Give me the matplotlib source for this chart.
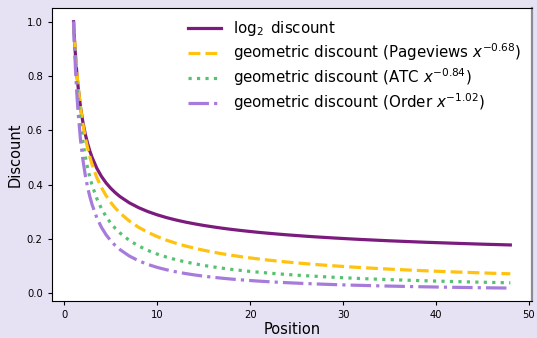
import matplotlib
matplotlib.use("Agg")
import matplotlib.pyplot as plt

positions = [1, 1.1, 1.2, 1.35, 1.5, 1.75, 2, 2.25, 2.5, 2.75, 3, 3.5, 4, 4.5, 5, 5.5] + list(range(6, 49))

log2_discount = [
    1.0000, 0.9342, 0.8791, 0.8113, 0.7565, 0.6852, 0.6309, 0.5881, 0.5533, 0.5244,
    0.5000, 0.4608, 0.4307, 0.4066, 0.3869, 0.3703,
    0.3562, 0.3333, 0.3155, 0.3010, 0.2891,
    0.2789, 0.2702, 0.2626, 0.2560, 0.2500, 0.2447, 0.2398, 0.2354, 0.2314, 0.2277,
    0.2242, 0.2211, 0.2181, 0.2153, 0.2128, 0.2103, 0.2080, 0.2059, 0.2038, 0.2019,
    0.2000, 0.1982, 0.1966, 0.1950, 0.1934, 0.1920, 0.1906, 0.1892, 0.1879, 0.1867,
    0.1855, 0.1843, 0.1832, 0.1821, 0.1810, 0.1800, 0.1791, 0.1781,
]

pageviews_discount = [
    1.0000, 0.9372, 0.8834, 0.8154, 0.7590, 0.6835, 0.6241, 0.5761, 0.5363, 0.5026,
    0.4738, 0.4266, 0.3896, 0.3596, 0.3347, 0.3137,
    0.2957, 0.2663, 0.2432, 0.2245, 0.2089,
    0.1958, 0.1846, 0.1748, 0.1662, 0.1586, 0.1518, 0.1456, 0.1401, 0.1350, 0.1304,
    0.1262, 0.1222, 0.1186, 0.1152, 0.1120, 0.1091, 0.1063, 0.1037, 0.1013, 0.0990,
    0.0968, 0.0947, 0.0928, 0.0909, 0.0891, 0.0874, 0.0858, 0.0843, 0.0828, 0.0814,
    0.0800, 0.0787, 0.0775, 0.0763, 0.0751, 0.0740, 0.0729, 0.0719,
]

atc_discount = [
    1.0000, 0.9231, 0.8580, 0.7772, 0.7114, 0.6250, 0.5586, 0.5060, 0.4632, 0.4275,
    0.3974, 0.3491, 0.3121, 0.2827, 0.2587, 0.2388,
    0.2220, 0.1950, 0.1743, 0.1579, 0.1445,
    0.1334, 0.1240, 0.1160, 0.1090, 0.1028, 0.0974, 0.0926, 0.0882, 0.0843, 0.0807,
    0.0775, 0.0745, 0.0718, 0.0693, 0.0669, 0.0648, 0.0628, 0.0609, 0.0591, 0.0574,
    0.0559, 0.0544, 0.0530, 0.0517, 0.0505, 0.0493, 0.0482, 0.0471, 0.0461, 0.0451,
    0.0442, 0.0433, 0.0425, 0.0416, 0.0409, 0.0401, 0.0394, 0.0387,
]

order_discount = [
    1.0000, 0.9074, 0.8303, 0.7363, 0.6613, 0.5651, 0.4931, 0.4373, 0.3927, 0.3564,
    0.3261, 0.2786, 0.2432, 0.2156, 0.1937, 0.1757,
    0.1608, 0.1374, 0.1199, 0.1063, 0.0955,
    0.0867, 0.0793, 0.0731, 0.0678, 0.0632, 0.0591, 0.0556, 0.0524, 0.0496, 0.0471,
    0.0448, 0.0427, 0.0408, 0.0391, 0.0375, 0.0360, 0.0347, 0.0334, 0.0322, 0.0311,
    0.0301, 0.0292, 0.0283, 0.0274, 0.0266, 0.0259, 0.0251, 0.0245, 0.0238, 0.0232,
    0.0226, 0.0221, 0.0216, 0.0211, 0.0206, 0.0201, 0.0197, 0.0193,
]

labels = [
    r"$\log_2$ discount",
    r"geometric discount (Pageviews $x^{-0.68}$)",
    r"geometric discount (ATC $x^{-0.84}$)",
    r"geometric discount (Order $x^{-1.02}$)",
]

plt.rcParams['font.family'] = ['DejaVu Sans']

fig = plt.figure(figsize=(5.37, 3.38), dpi=100, facecolor='#e6e2f3')
ax = fig.add_axes([0.0963, 0.1083, 0.8947, 0.8667])
ax.set_facecolor('white')

lw = 2.3
ax.plot(positions, log2_discount, color='#7b1b7e', lw=lw, ls='-', label=labels[0])
ax.plot(positions, pageviews_discount, color='#ffc20e', lw=lw, ls='--', label=labels[1])
ax.plot(positions, atc_discount, color='#56c271', lw=lw, ls=':', label=labels[2])
ax.plot(positions, order_discount, color='#a77bdb', lw=lw, ls='-.', label=labels[3])

ax.set_xlabel("Position", fontsize=10.5, labelpad=1)
ax.set_ylabel("Discount", fontsize=10.5, labelpad=3)
ax.tick_params(labelsize=7.2, length=3)
ax.set_xticks([0, 10, 20, 30, 40, 50])
ax.set_yticks([0.0, 0.2, 0.4, 0.6, 0.8, 1.0])
ax.spines['right'].set_color('#8c8a98')
ax.spines['right'].set_linewidth(1.6)

ax.legend(loc='upper right', frameon=False, fontsize=10.8, handlelength=2.2,
          labelspacing=0.22, borderaxespad=0.3)

fig.savefig("out.png", dpi=100, facecolor=fig.get_facecolor())
